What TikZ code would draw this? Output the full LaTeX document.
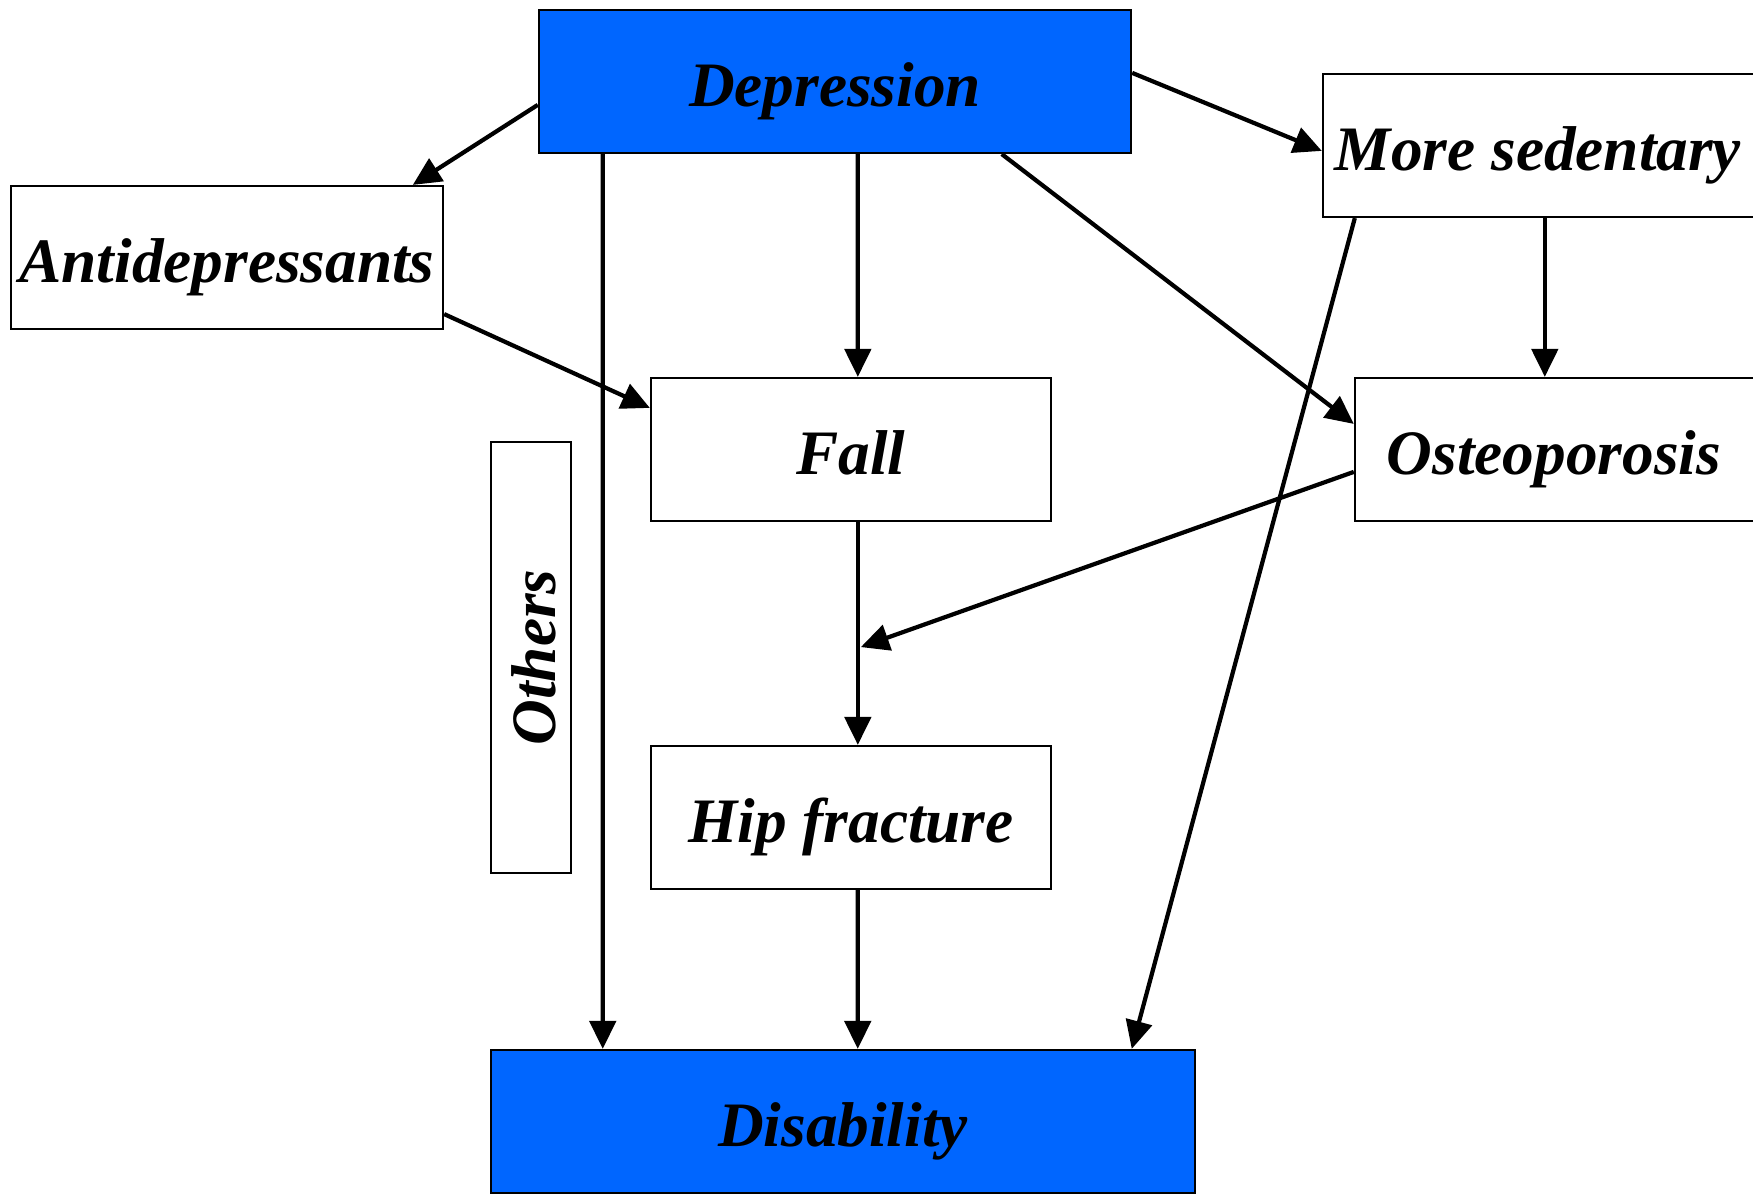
\documentclass[tikz,border=0pt]{standalone}
\usepackage{fontspec}
\setmainfont{Liberation Serif}
\usetikzlibrary{arrows.meta,calc}
\definecolor{myblue}{RGB}{0,102,255}
\begin{document}
\begin{tikzpicture}[x=0.01cm,y=-0.01cm,
  box/.style={draw=black,line width=0.6pt,inner sep=0pt,minimum height=1.43cm,
    text height=0.64cm,text depth=0.15cm,
    font=\fontsize{18}{20}\selectfont\bfseries\itshape},
  bluebox/.style={box,fill=myblue},
  conn/.style={line width=1.2pt,-{Triangle[length=8pt,width=7.5pt]}}]
\useasboundingbox (0,0) rectangle (1753,1194);
\node[bluebox,minimum width=5.92cm] (dep) at (835,81.5) {Depression};
\node[box,minimum width=4.32cm] (anti) at (227,257.5) {Antidepressants};
\node[box,minimum width=4.6cm] (sed) at (1553,145.5) {More sedentary\hspace*{0.3cm}};
\node[box,minimum width=4.0cm] (fall) at (851,449.5) {Fall};
\node[box,minimum width=4.6cm] (ost) at (1585,449.5) {Osteoporosis\hspace*{0.62cm}};
\node[box,rotate=90,minimum width=4.31cm,minimum height=0.8cm] (oth) at (531,657.5) {Others};
\node[box,minimum width=4.0cm] (hip) at (851,817.5) {Hip fracture};
\node[bluebox,minimum width=7.04cm] (dis) at (843,1121.5) {Disability};
\coordinate (mid) at ($(fall.south west)+(208,125)$);
\draw[conn] ($(dep.north west)+(0,96)$) -- ($(anti.north west)+(403,0)$);
\draw[conn] ($(dep.south west)+(65,0)$) -- ($(dis.north west)+(113,0)$);
\draw[conn] ($(dep.south west)+(320,0)$) -- ($(fall.north west)+(208,0)$);
\draw[conn] ($(dep.south west)+(464,0)$) -- ($(ost.north west)+(0,47)$);
\draw[conn] ($(dep.north east)+(0,64)$) -- ($(sed.north west)+(0,78)$);
\draw[conn] ($(anti.south east)+(0,-16)$) -- ($(fall.north west)+(0,31)$);
\draw[conn] ($(sed.south west)+(223,0)$) -- ($(ost.north west)+(191,0)$);
\draw[conn] ($(sed.south west)+(33,0)$) -- ($(dis.north west)+(642,0)$);
\draw[conn] ($(fall.south west)+(208,0)$) -- ($(hip.north west)+(208,0)$);
\draw[conn] ($(ost.north west)+(0,95)$) -- ($(mid)+(3,0)$);
\draw[conn] ($(hip.south west)+(208,0)$) -- ($(dis.north west)+(368,0)$);
\end{tikzpicture}
\end{document}
